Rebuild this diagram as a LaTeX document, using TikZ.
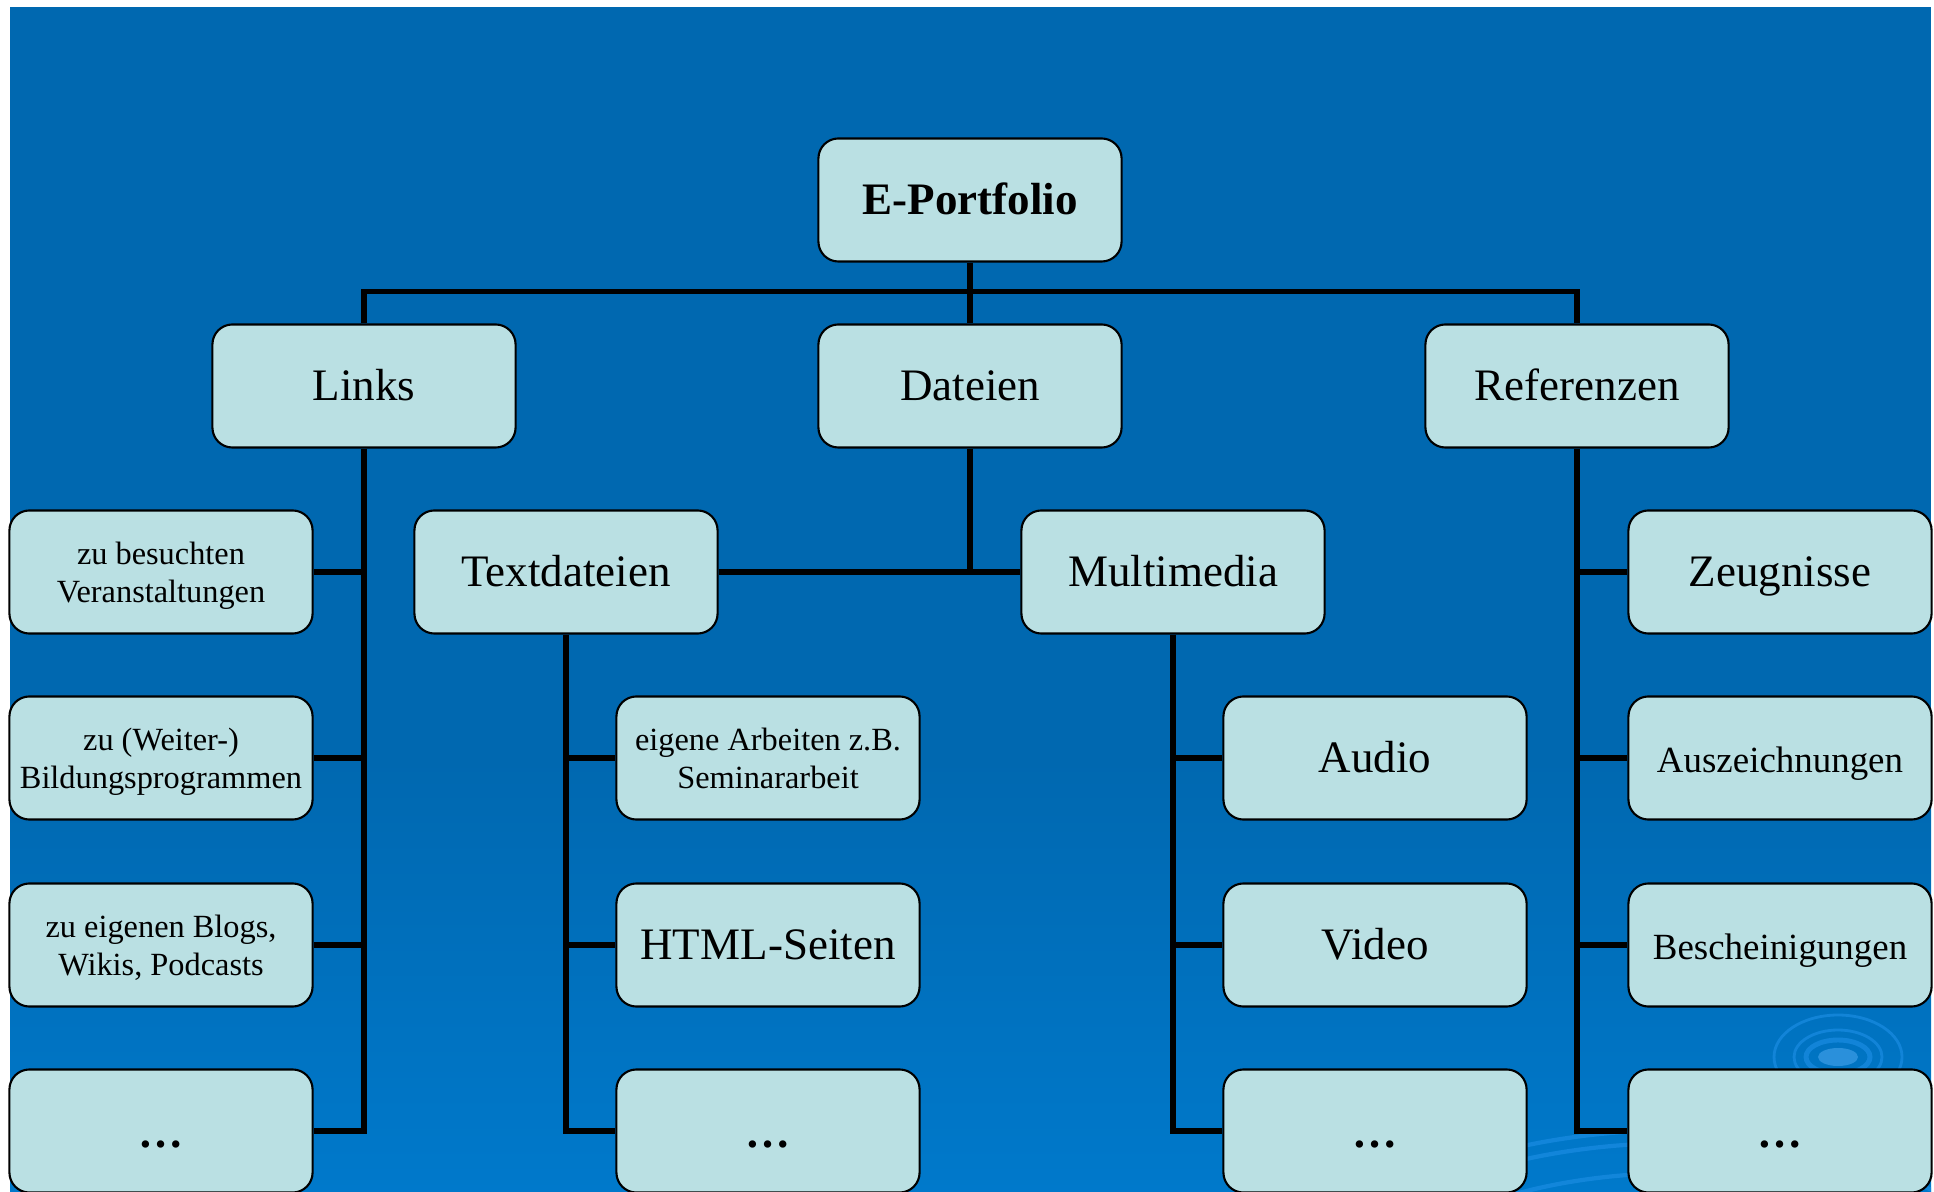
\documentclass[tikz,border=0pt]{standalone}
\usepackage{fontspec}
\setmainfont{Liberation Serif}

\definecolor{bgtop}{HTML}{0068B0}
\definecolor{bgbot}{HTML}{0079CB}
\definecolor{boxfill}{HTML}{BAE0E3}
\definecolor{ripple}{HTML}{1A8CE2}

\newcommand{\bigtxt}{\fontsize{12.8}{15.4}\selectfont}
\newcommand{\midtxt}{\fontsize{10.5}{12.6}\selectfont}
\newcommand{\smalltxt}{\fontsize{9.2}{10.8}\selectfont}

\tikzset{
  pbox/.style={draw=black, line width=0.6pt, fill=boxfill, rounded corners=0.2cm,
    minimum width=3.03cm, minimum height=1.23cm, inner sep=0pt, align=center, font=\bigtxt,
    text height=0.8em, text depth=0em},
  twoline/.style={pbox, font=\smalltxt, text height=, text depth=0em},
  morebox/.style={pbox, text height=1.06em, text depth=0.1em},
  link/.style={line width=1.5pt},
}

\begin{document}
\begin{tikzpicture}[x=0.01cm, y=-0.01cm]
     \useasboundingbox (0,0) rectangle (1934,1192);
     \clip (0,0) rectangle (1934,1192);
     \fill[bgtop] (10,7) rectangle (1931,760);
     \shade[top color=bgtop, bottom color=bgbot] (10,759) rectangle (1931,1192);

     % ripples
     \begin{scope}[opacity=0.7]
       \clip (10,7) rectangle (1931,1192);
       \fill[ripple!85] (1838,1057) ellipse [x radius=20, y radius=9];
       \draw[ripple, line width=1.4pt] (1838,1057) ellipse [x radius=32, y radius=17];
       \draw[ripple, line width=0.8pt] (1838,1057) ellipse [x radius=44, y radius=27];
       \draw[ripple, line width=0.8pt] (1838,1057) ellipse [x radius=64, y radius=42];
       \draw[ripple, line width=1.2pt] (1680,1330) ellipse [x radius=400, y radius=200];
       \draw[ripple, line width=1.2pt] (1680,1330) ellipse [x radius=380, y radius=187];
       \draw[ripple, line width=1.2pt] (1680,1330) ellipse [x radius=330, y radius=157];
     \end{scope}

     \node[pbox, font=\bigtxt\bfseries] (root) at (970,200) {E-Portfolio};

     \node[pbox] (links) at (364,386) {Links};
     \node[pbox] (dateien) at (970,386) {Dateien};
     \node[pbox] (refs) at (1577,386) {Referenzen};

     \node[twoline] (l1) at (161,572) {zu besuchten\\Veranstaltungen};
     \node[pbox] (textd) at (566,572) {Textdateien};
     \node[pbox] (multi) at (1173,572) {Multimedia};
     \node[pbox] (r1) at (1780,572) {Zeugnisse};

     \node[twoline] (l2) at (161,758) {zu (Weiter-)\\Bildungsprogrammen};
     \node[twoline, text depth=] (t1) at (768,758) {eigene Arbeiten z.B.\\Seminararbeit};
     \node[pbox] (m1) at (1375,758) {Audio};
     \node[pbox, font=\midtxt] (r2) at (1780,758) {Auszeichnungen};

     \node[twoline] (l3) at (161,945) {zu eigenen Blogs,\\Wikis, Podcasts};
     \node[pbox] (t2) at (768,945) {HTML-Seiten};
     \node[pbox] (m2) at (1375,945) {Video};
     \node[pbox, font=\midtxt] (r3) at (1780,945) {Bescheinigungen};

     \node[morebox] (l4) at (161,1131) {\textbf{…}};
     \node[morebox] (t3) at (768,1131) {\textbf{…}};
     \node[morebox] (m3) at (1375,1131) {\textbf{…}};
     \node[morebox] (r4) at (1780,1131) {\textbf{…}};

     \draw[link] (links.north) -- ++(0,-32) -| (refs.north);
     \draw[link] (root.south) -- (dateien.north);

     \draw[link] (links.south) |- (l4.east);
     \foreach \n in {l1,l2,l3} \draw[link] (links.south |- \n.east) -- (\n.east);

     \draw[link] (dateien.south) -- (dateien.south |- textd.east);
     \draw[link] (textd.east) -- (multi.west);

     \draw[link] (textd.south) |- (t3.west);
     \foreach \n in {t1,t2} \draw[link] (textd.south |- \n.west) -- (\n.west);

     \draw[link] (multi.south) |- (m3.west);
     \foreach \n in {m1,m2} \draw[link] (multi.south |- \n.west) -- (\n.west);

     \draw[link] (refs.south) |- (r4.west);
     \foreach \n in {r1,r2,r3} \draw[link] (refs.south |- \n.west) -- (\n.west);
\end{tikzpicture}
\end{document}
